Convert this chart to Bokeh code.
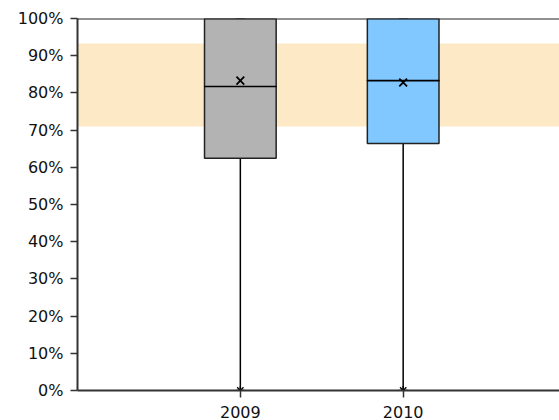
from bokeh.plotting import figure
from bokeh.models import FixedTicker, Range1d, Span, BoxAnnotation, NumeralTickFormatter
from bokeh.embed import file_html
from bokeh.resources import INLINE

categories = ["2009", "2010"]
positions = [1, 2]
q1 = [0.624, 0.664]
median = [0.817, 0.833]
q3 = [1.0, 1.0]
mean = [0.833, 0.828]
whisker_low = [0.0, 0.0]
whisker_high = [1.0, 1.0]
colors = ["#b3b3b3", "#80c8ff"]
band_low = 0.710
band_high = 0.933

p = figure(width=559, height=420, output_backend="svg", toolbar_location=None,
           x_range=Range1d(0.0, 2.96), y_range=Range1d(0, 1.0),
           min_border_top=18, min_border_left=77, min_border_right=0, min_border_bottom=0)
p.outline_line_color = None
p.grid.visible = False

p.add_layout(BoxAnnotation(bottom=band_low, top=band_high, fill_color="#fde9c5",
                           fill_alpha=1.0, line_color=None, level="underlay"))

# extremes (drawn first so the boxes cover them)
p.scatter(x=positions, y=whisker_low, marker="asterisk", size=9, line_color="black", line_width=1.3)
p.scatter(x=positions, y=whisker_high, marker="asterisk", size=9, line_color="black", line_width=1.3)
# whiskers
p.segment(x0=positions, y0=whisker_low, x1=positions, y1=q1, line_color="black", line_width=1.5)
p.segment(x0=positions, y0=q3, x1=positions, y1=whisker_high, line_color="black", line_width=1.5)
# boxes
p.vbar(x=positions, width=0.44, bottom=q1, top=q3, fill_color=colors,
       line_color="#222222", line_width=1.5)
# medians
p.rect(x=positions, y=median, width=0.44, height=0.0001, line_color="black",
       line_width=1.5, fill_color=None)
# means
p.scatter(x=positions, y=mean, marker="x", size=11, line_color="black", line_width=1.8)

p.add_layout(Span(location=1.0, dimension="width", line_color="#222222", line_width=2))

p.yaxis.ticker = FixedTicker(ticks=[i / 10 for i in range(11)])
p.yaxis.formatter = NumeralTickFormatter(format="0%")
p.xaxis.ticker = FixedTicker(ticks=positions)
p.xaxis.major_label_overrides = {pos: c for pos, c in zip(positions, categories)}
for ax in (p.xaxis, p.yaxis):
    ax.axis_line_color = "#333333"
    ax.axis_line_width = 2
    ax.major_tick_line_color = "#333333"
    ax.major_tick_line_width = 1.5
    ax.major_tick_out = 7
    ax.major_tick_in = 0
    ax.minor_tick_line_color = None
    ax.major_label_text_font = "DejaVu Sans"
    ax.major_label_text_font_size = "16px"
    ax.major_label_text_color = "#111111"
p.yaxis.major_label_standoff = 7
p.xaxis.major_label_standoff = 8

open("out.html", "w").write(file_html(p, INLINE))
